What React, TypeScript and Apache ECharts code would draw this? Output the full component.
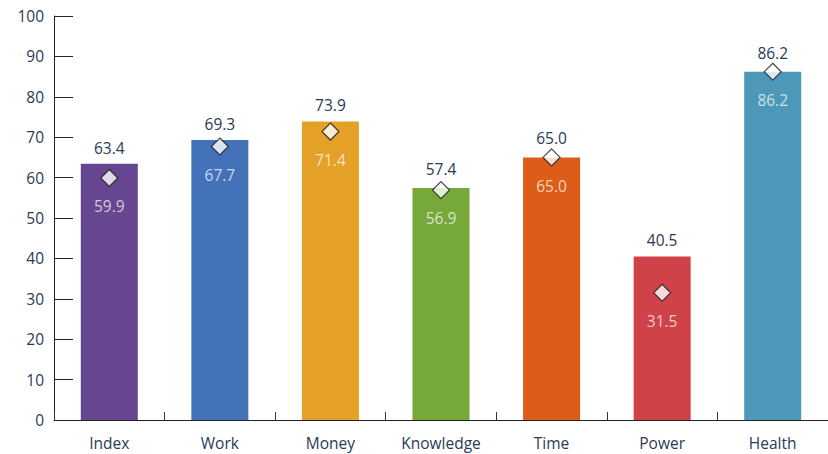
import React, { useEffect, useRef } from "react";
import * as echarts from "echarts";

const categories = ["Index", "Work", "Money", "Knowledge", "Time", "Power", "Health"];
const barValues = [63.4, 69.3, 73.9, 57.4, 65.0, 40.5, 86.2];
const markerValues = [59.9, 67.7, 71.4, 56.9, 65.0, 31.5, 86.2];
const barColors = ["#66468f", "#4472b8", "#e5a127", "#76a83a", "#dd5d18", "#cf4348", "#4d98b8"];
const yTicks = { min: 0, max: 100, interval: 10 };

export default function App() {
  const ref = useRef<HTMLDivElement>(null);
  useEffect(() => {
    if (!ref.current) return;
    const chart = echarts.init(ref.current, undefined, { renderer: "svg" });
    const font = "'Open Sans', 'Noto Sans', sans-serif";
    const textColor = "#2b3a55";
    chart.setOption({
      animation: false,
      grid: { left: 54, right: -3, top: 16, bottom: 34 },
      xAxis: {
        type: "category",
        data: categories,
        axisLine: { lineStyle: { color: "#222", width: 1 } },
        axisTick: { show: true, inside: true, length: 8, alignWithLabel: false, lineStyle: { color: "#333" } },
        axisLabel: { color: textColor, fontSize: 15.5, fontFamily: font, margin: 15 },
      },
      yAxis: {
        type: "value",
        min: yTicks.min,
        max: yTicks.max,
        interval: yTicks.interval,
        splitLine: { show: false },
        axisLine: { show: true, lineStyle: { color: "#222", width: 1 } },
        axisTick: { show: true, inside: true, length: 19, lineStyle: { color: "#222" } },
        axisLabel: { color: textColor, fontSize: 15.5, fontFamily: font, margin: 10 },
      },
      series: [
        {
          type: "bar",
          data: barValues.map((v, i) => ({
            value: v,
            itemStyle: { color: barColors[i] },
            label: { distance: Math.abs(v - markerValues[i]) < 1.5 ? 11 : 8 },
          })),
          barWidth: 57,
          label: {
            show: true,
            position: "top",
            distance: 8,
            color: textColor,
            fontSize: 15.5,
            fontFamily: font,
            formatter: (p: any) => Number(p.value).toFixed(1),
          },
          z: 2,
        },
        {
          type: "scatter",
          data: markerValues,
          symbol: "diamond",
          symbolSize: 17,
          itemStyle: { color: "#ffffff", borderColor: "#1a1a1a", borderWidth: 1.2 },
          label: {
            show: true,
            position: "bottom",
            distance: 11,
            color: "rgba(255,255,255,0.9)",
            fontSize: 15.5,
            fontFamily: font,
            formatter: (p: any) => Number(p.value).toFixed(1),
          },
          z: 3,
        },
      ],
    });
    return () => chart.dispose();
  }, []);
  return <div ref={ref} style={{ width: 828, height: 454, position: "absolute", left: 0, top: 0 }} />;
}
